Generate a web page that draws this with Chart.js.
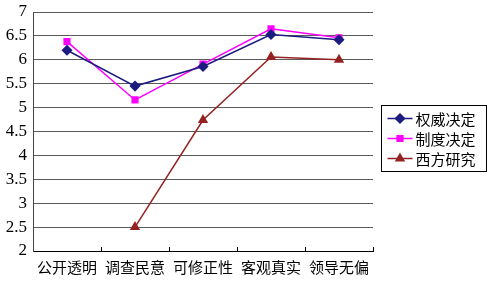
<!DOCTYPE html>
<html>
<head>
<meta charset="utf-8">
<script src="https://cdn.jsdelivr.net/npm/chart.js@4.4.1/dist/chart.umd.min.js"></script>
<style>
  html, body { margin: 0; padding: 0; background: #fff; }
  #wrap { width: 491px; height: 284px; }
</style>
</head>
<body>
<div id="wrap"><canvas id="myChart" width="491" height="284"></canvas></div>
<script>
  var categories = ["公开透明", "调查民意", "可修正性", "客观真实", "领导无偏"];
  var authority = [6.2, 5.45, 5.86, 6.53, 6.42];
  var institution = [6.38, 5.16, 5.91, 6.65, 6.46];
  var western = [null, 2.5, 4.74, 6.06, 6.0];
  var seriesNames = ["权威决定", "制度决定", "西方研究"];

  var cjk = "'Noto Sans CJK SC', sans-serif";
  var serif = "'Liberation Serif', 'Times New Roman', serif";

  // small upward ticks at category boundaries on the x axis
  var xTicks = {
    id: "xTicks",
    afterDraw: function (chart) {
      var ctx = chart.ctx, x = chart.scales.x, a = chart.chartArea;
      var half = (x.getPixelForValue(1) - x.getPixelForValue(0)) / 2;
      ctx.save();
      ctx.strokeStyle = "#000";
      ctx.lineWidth = 1;
      for (var i = 0; i < categories.length; i++) {
        var px = Math.round(x.getPixelForValue(i) + half) + 0.5;
        ctx.beginPath();
        ctx.moveTo(px, a.bottom);
        ctx.lineTo(px, a.bottom - 4);
        ctx.stroke();
      }
      ctx.restore();
    }
  };

  // boxed legend on the right, line + marker samples
  var boxLegend = {
    id: "boxLegend",
    afterDraw: function (chart) {
      var ctx = chart.ctx;
      var left = 381.5, top = 105.5, w = 105, h = 66;
      ctx.save();
      ctx.strokeStyle = "#000";
      ctx.lineWidth = 1;
      ctx.strokeRect(left, top, w, h);
      ctx.font = "15px " + cjk;
      ctx.textBaseline = "middle";
      chart.data.datasets.forEach(function (ds, i) {
        var y = top + 13 + i * 20;
        ctx.strokeStyle = ds.borderColor;
        ctx.lineWidth = 1.5;
        ctx.beginPath();
        ctx.moveTo(left + 6, y);
        ctx.lineTo(left + 31, y);
        ctx.stroke();
        ctx.fillStyle = ds.pointBackgroundColor;
        Chart.helpers.drawPoint(ctx, {
          pointStyle: ds.pointStyle, radius: ds.pointRadius, rotation: 0, borderWidth: 1
        }, left + 18.5, y);
        ctx.fillStyle = "#000";
        ctx.fillText(ds.label, left + 34, y + 1);
      });
      ctx.restore();
    }
  };

  var ctx = document.getElementById('myChart').getContext('2d');
  let chart = new Chart(ctx, {
    type: "line",
    data: {
      labels: categories,
      datasets: [
        {
          label: seriesNames[0],
          data: authority,
          borderColor: "#1c1c80",
          pointBackgroundColor: "#1c1c80",
          pointBorderColor: "#1c1c80",
          pointStyle: "rectRot",
          pointRadius: 4.5,
          borderWidth: 1.5,
          fill: false
        },
        {
          label: seriesNames[1],
          data: institution,
          borderColor: "#ff00ff",
          pointBackgroundColor: "#ff00ff",
          pointBorderColor: "#ff00ff",
          pointStyle: "rect",
          pointRadius: 4,
          borderWidth: 1.5,
          fill: false
        },
        {
          label: seriesNames[2],
          data: western,
          borderColor: "#952222",
          pointBackgroundColor: "#952222",
          pointBorderColor: "#952222",
          pointStyle: "triangle",
          pointRadius: 4.5,
          borderWidth: 1.5,
          fill: false
        }
      ]
    },
    options: {
      responsive: false,
      animation: false,
      layout: { padding: { left: 5, right: 118, top: 12, bottom: 0 } },
      plugins: {
        legend: { display: false },
        tooltip: { enabled: false }
      },
      scales: {
        x: {
          offset: true,
          afterFit: function (scale) { scale.height = 33; },
          grid: { display: false, drawTicks: false },
          border: { display: true, color: "#000", width: 1 },
          ticks: { color: "#000", padding: 7, font: { family: cjk, size: 15 } }
        },
        y: {
          min: 2,
          max: 7,
          afterFit: function (scale) {
            scale.width = 28;
            scale.paddingTop = 0;
            scale.paddingBottom = 0;
          },
          grid: { color: "#5a5a5a", lineWidth: 1, drawTicks: false },
          border: { display: true, color: "#444", width: 1 },
          ticks: {
            stepSize: 0.5,
            color: "#000",
            padding: 6,
            font: { family: serif, size: 17 },
            callback: function (v) { return String(v); }
          }
        }
      }
    },
    plugins: [xTicks, boxLegend]
  });
</script>
</body>
</html>
